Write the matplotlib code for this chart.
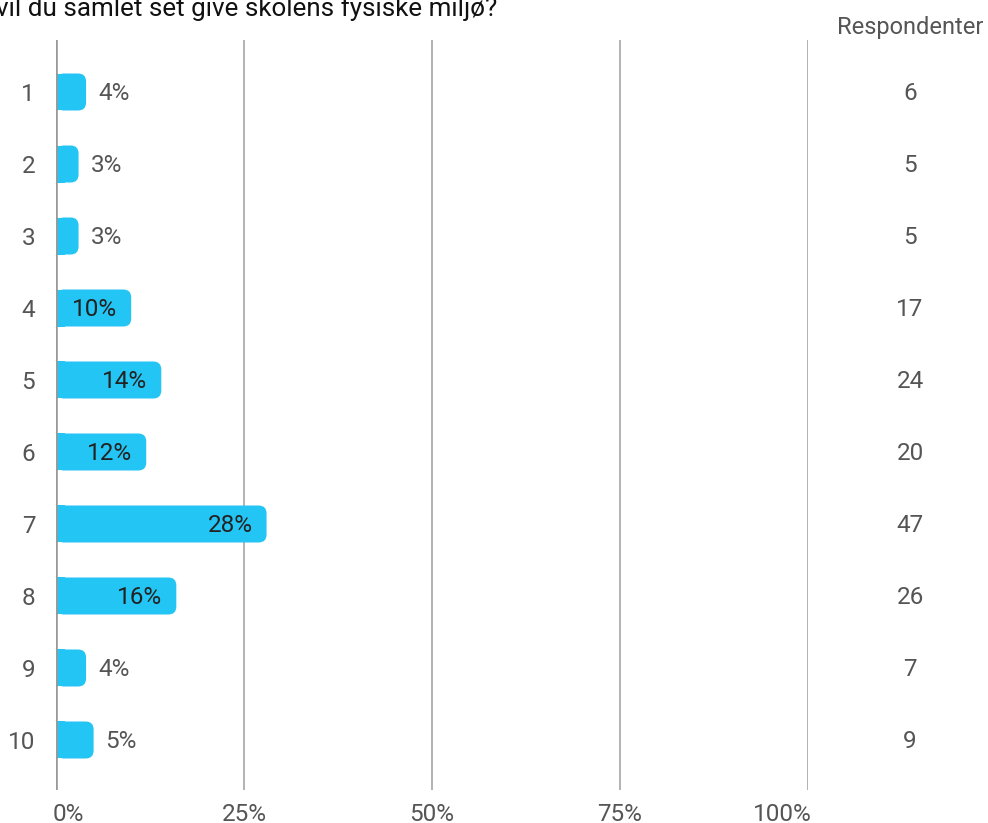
import matplotlib.pyplot as plt
from matplotlib.patches import FancyBboxPatch, Rectangle

plt.rcParams["font.family"] = ["Roboto", "DejaVu Sans"]

categories = ["1", "2", "3", "4", "5", "6", "7", "8", "9", "10"]
percent = [4, 3, 3, 10, 14, 12, 28, 16, 4, 5]
respondents = [6, 5, 5, 17, 24, 20, 47, 26, 7, 9]
x_ticks = [0, 25, 50, 75, 100]
title = "vil du samlet set give skolens fysiske miljø?"

BAR_COLOR = "#22c5f3"
GRID_COLOR = "#a6a6a6"
TEXT_GREY = "#555555"

W, H = 988, 823
fig = plt.figure(figsize=(W / 100, H / 100), dpi=100)
ax_left, ax_right = 56, 808
ax_top, ax_bottom = 40, 790
row_px = 72
ax = fig.add_axes([ax_left / W, 1 - ax_bottom / H,
                   (ax_right - ax_left) / W, (ax_bottom - ax_top) / H])
ax.set_xlim(0, 100)
ax.set_ylim(len(categories) - 1 + 50 / row_px, -52 / row_px)

# data units per pixel
px_x = 100 / (ax_right - ax_left)
px_y = 1 / row_px
bar_h = 37 * px_y
radius = 8 * px_x
base_off = 8 * px_y  # baseline sits below the row centre

for x in x_ticks[1:]:
    ax.axvline(x, color=GRID_COLOR, lw=1.2, zorder=1)

for i, share in enumerate(percent):
    y0 = i - bar_h / 2
    ax.add_patch(FancyBboxPatch(
        (0, y0), share, bar_h,
        boxstyle=f"round,pad=0,rounding_size={radius}",
        mutation_aspect=px_y / px_x,
        fc=BAR_COLOR, ec="none", zorder=2,
    ))
    # square off the left end of the bar
    ax.add_patch(Rectangle((0, y0), min(share / 2, radius + px_x), bar_h,
                           fc=BAR_COLOR, ec="none", lw=0, zorder=2))
    label = f"{share}%"
    if share >= 9:
        ax.text(share - 14 * px_x, i + base_off, label, ha="right",
                va="baseline", fontsize=17.5, color="#222222", zorder=3)
    else:
        ax.text(share + 12 * px_x, i + base_off, label, ha="left",
                va="baseline", fontsize=17.5, color=TEXT_GREY, zorder=3)
    fig.text(910 / W, 1 - (ax_top + 52 + i * row_px + 8) / H,
             str(respondents[i]), ha="center", va="baseline",
             fontsize=17.5, color=TEXT_GREY)

ax.axvline(0, color="#999999", lw=2.6, zorder=4)

ax.set_yticks(range(len(categories)))
ax.set_yticklabels(categories)
ax.set_xticks([])
ax.tick_params(axis="y", length=0, pad=15, labelsize=17.5, labelcolor=TEXT_GREY)
for s in ax.spines.values():
    s.set_visible(False)

# x tick labels: centred on gridlines, the outer two pulled inwards
for x in x_ticks:
    ha, dx = "center", 0
    if x == x_ticks[0]:
        ha, dx = "left", -3
    elif x == x_ticks[-1]:
        ha, dx = "right", 4
    fig.text((ax_left + x / px_x + dx) / W, 1 - 821 / H, f"{x}%",
             ha=ha, va="baseline", fontsize=17.5, color=TEXT_GREY)

fig.text(910 / W, 1 - 34 / H, "Respondenter", ha="center", va="baseline",
         fontsize=17, color=TEXT_GREY)
fig.text(-4 / W, 1 - 16 / H, title, ha="left", va="baseline",
         fontsize=18.7, color="#111111")

fig.savefig("out.png", dpi=100)
